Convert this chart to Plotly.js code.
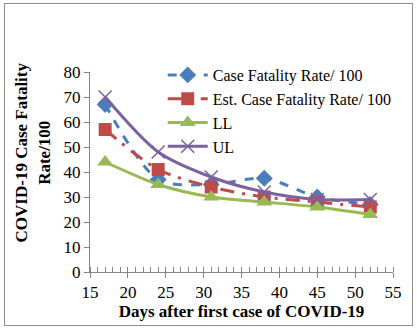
<!DOCTYPE html>
<html><head><meta charset="utf-8">
<script src="https://cdn.plot.ly/plotly-3.0.1.min.js"></script>
<style>
html,body{margin:0;padding:0;background:#fff;}
#wrap{position:absolute;left:0;top:0;width:417px;height:329px;}
#frame{position:absolute;left:4px;top:3px;width:407px;height:321px;border:1px solid #8c8c8c;pointer-events:none;}
#chart{position:absolute;left:0;top:0;width:417px;height:329px;}
</style></head>
<body>
<div id="wrap"><div id="chart"></div><div id="frame"></div></div>
<script>
var days = [17, 24, 31, 38, 45, 52];
var caseFatality = [67, 37, 35, 37.5, 30, 27];
var estCaseFatality = [57, 41, 34, 30, 28, 26];
var lowerLimit = [44, 35, 30, 28, 26, 23];
var upperLimit = [70, 48, 38, 32, 29, 29];
var seriesNames = ['Case Fatality Rate/ 100', 'Est. Case Fatality Rate/ 100', 'LL', 'UL'];
var yTitle = '<b>COVID-19 Case Fatality<br>Rate/100</b>';
var xTitle = '<b>Days after first case of COVID-19</b>';

var FAM = 'Liberation Serif';
var traces = [
  {x: days, y: caseFatality, name: seriesNames[0], mode: 'lines+markers',
   line: {color: '#4a7ebb', width: 3, dash: 'dash', shape: 'spline', smoothing: 0.8},
   marker: {symbol: 'diamond', size: 13, color: '#4a7ebb'}},
  {x: days, y: estCaseFatality, name: seriesNames[1], mode: 'lines+markers',
   line: {color: '#be4b48', width: 3, dash: '14px,8px,3px,8px', shape: 'spline', smoothing: 0.8},
   marker: {symbol: 'square', size: 13, color: '#be4b48'}},
  {x: days, y: lowerLimit, name: seriesNames[2], mode: 'lines+markers',
   line: {color: '#98b954', width: 3, shape: 'spline', smoothing: 0.8},
   marker: {symbol: 'triangle-up', size: 14, color: '#98b954'}},
  {x: days, y: upperLimit, name: seriesNames[3], mode: 'lines+markers',
   line: {color: '#7d60a0', width: 3, shape: 'spline', smoothing: 0.8},
   marker: {symbol: 'x-thin', size: 13, line: {color: '#7d60a0', width: 1.5}, color: '#7d60a0'}}
];

var layout = {
  width: 417, height: 329,
  margin: {l: 90, r: 24, t: 72, b: 57},
  paper_bgcolor: '#fff', plot_bgcolor: '#fff',
  font: {family: FAM, size: 17, color: '#000'},
  showlegend: true,
  legend: {x: 0.24, y: 1.07, xanchor: 'left', yanchor: 'top', bgcolor: 'rgba(0,0,0,0)',
           font: {family: FAM, size: 16, color: '#000'}, tracegroupgap: 0, itemwidth: 40},
  xaxis: {range: [15, 55], dtick: 5, tick0: 15, showgrid: false, zeroline: false,
          showline: true, linecolor: '#868686', linewidth: 1,
          ticks: 'outside', ticklen: 5, tickcolor: '#868686',
          tickfont: {family: FAM, size: 17, color: '#000'},
          minor: {dtick: 1, ticks: 'inside', ticklen: 5, tickcolor: '#868686', showgrid: false},
          title: {text: xTitle, font: {family: FAM, size: 17, color: '#000'}, standoff: 2}},
  yaxis: {range: [0, 80], dtick: 10, showgrid: false, zeroline: false,
          showline: true, linecolor: '#868686', linewidth: 1,
          ticks: 'outside', ticklen: 5, tickcolor: '#868686',
          tickfont: {family: FAM, size: 17, color: '#000'}},
  annotations: [{text: yTitle, xref: 'paper', yref: 'paper', x: -0.19, y: 0.6,
                 xanchor: 'center', yanchor: 'middle', textangle: -90, showarrow: false,
                 font: {family: FAM, size: 17, color: '#000'}}]
};
Plotly.newPlot('chart', traces, layout, {displayModeBar: false, staticPlot: true});
</script>
</body></html>
